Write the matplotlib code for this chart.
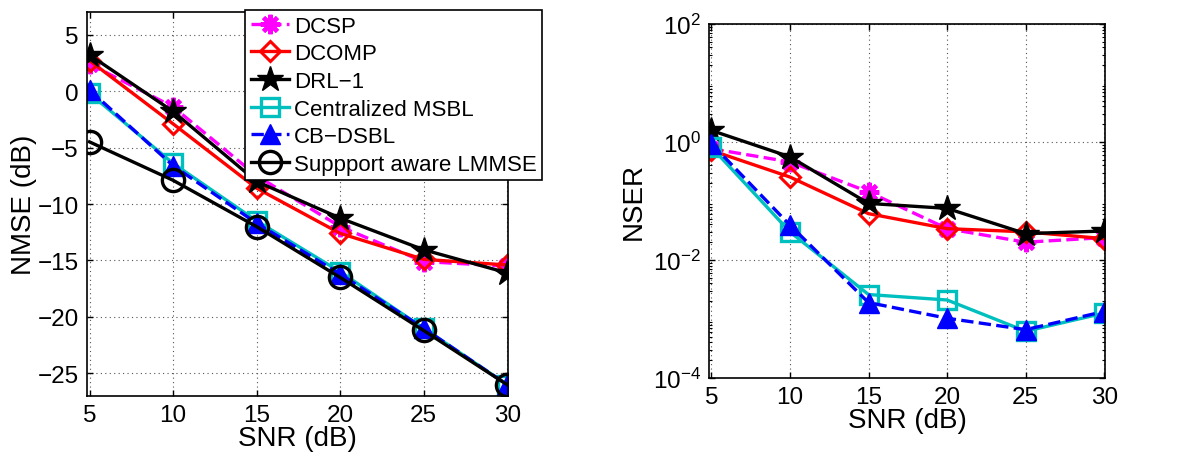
import matplotlib
matplotlib.use("Agg")
import matplotlib.pyplot as plt
import numpy as np

plt.rcParams['font.family'] = ['Liberation Sans', 'DejaVu Sans']

snr = [5, 10, 15, 20, 25, 30]

# NMSE (dB)
nmse_dcsp = [2.4, -1.4, -7.5, -12.0, -15.1, -15.5]
nmse_dcomp = [2.7, -2.9, -8.6, -12.6, -14.9, -15.4]
nmse_drl1 = [3.2, -1.8, -8.0, -11.25, -14.05, -16.1]
nmse_msbl = [-0.2, -6.4, -11.5, -16.0, -21.0, -26.0]
nmse_cbdsbl = [0.1, -6.6, -11.7, -16.2, -21.0, -26.0]
nmse_lmmse = [-4.5, -7.9, -12.0, -16.5, -21.2, -26.0]

# NSER
nser_dcsp = [0.77, 0.46, 0.143, 0.034, 0.020, 0.024]
nser_dcomp = [0.72, 0.255, 0.061, 0.034, 0.030, 0.023]
nser_drl1 = [1.57, 0.56, 0.091, 0.075, 0.028, 0.031]
nser_msbl = [0.82, 0.030, 0.0026, 0.0021, 0.00062, 0.00126]
nser_cbdsbl = [0.94, 0.039, 0.0019, 0.00103, 0.00066, 0.00134]

labels = ['DCSP', 'DCOMP', 'DRL\u22121', 'Centralized MSBL', 'CB\u2212DSBL',
          'Suppport aware LMMSE']

styles = [
    dict(color='#ff00ff', ls='--', marker=(8, 2, 0), ms=14, mfc='#ff00ff', mec='#ff00ff', mew=3),
    dict(color='#ff0000', ls='-', marker='D', ms=10, mfc='none', mec='#ff0000', mew=2.2),
    dict(color='black', ls='-', marker='*', ms=19, mfc='black', mec='black'),
    dict(color='#00bfbf', ls='-', marker='s', ms=13, mfc='none', mec='#00bfbf', mew=2.4),
    dict(color='#0000ff', ls='--', marker='^', ms=14, mfc='#0000ff', mec='#0000ff'),
    dict(color='black', ls='-', marker='o', ms=16, mfc='none', mec='black', mew=2.4),
]

W, H = 1186, 464
fig = plt.figure(figsize=(W / 100, H / 100), dpi=100)

ax1 = fig.add_axes([87 / W, (H - 397) / H, (508 - 87) / W, (397 - 13) / H])
ax2 = fig.add_axes([709 / W, (H - 379) / H, (1105 - 709) / W, (379 - 25) / H])

nmse = [nmse_dcsp, nmse_dcomp, nmse_drl1, nmse_msbl, nmse_cbdsbl, nmse_lmmse]
handles = []
for y, st, lab in zip(nmse, styles, labels):
    h, = ax1.plot(snr, y, lw=2.4, label=lab, **st)
    handles.append(h)

nser = [nser_dcsp, nser_dcomp, nser_drl1, nser_msbl, nser_cbdsbl]
for y, st, lab in zip(nser, styles[:5], labels[:5]):
    ax2.plot(snr, y, lw=2.4, label=lab, **st)

for ax in (ax1, ax2):
    ax.set_xticks(snr)
    ax.tick_params(direction='in', labelsize=17.5, length=4, width=1, top=True, right=True,
                   pad=6)
    ax.tick_params(which='minor', direction='in', length=2.5, width=0.8, top=True, right=True)
    ax.grid(True, ls=(0, (1, 3)), color='#555555', lw=0.8)
    for sp in ax.spines.values():
        sp.set_linewidth(1.2)
    ax.set_xlabel('SNR (dB)', fontsize=20, labelpad=-1)

ax1.set_xlim(4.85, 30.05)
ax1.set_ylim(-27, 7)
ax1.set_yticks([5, 0, -5, -10, -15, -20, -25])
ax1.set_yticklabels(['5', '0', '\u22125', '\u221210', '\u221215', '\u221220', '\u221225'])
ax1.set_ylabel('NMSE (dB)', fontsize=20, labelpad=0)

ax2.set_yscale('log')
ax2.set_xlim(4.85, 30.05)
ax2.set_ylim(1e-4, 1e2)
ax2.set_yticks([1e-4, 1e-2, 1e0, 1e2])
ax2.set_yticklabels(['$\\mathregular{10^{-4}}$', '$\\mathregular{10^{-2}}$',
                     '$\\mathregular{10^{0}}$', '$\\mathregular{10^{2}}$'])
ax2.yaxis.set_minor_locator(matplotlib.ticker.LogLocator(base=10, subs=np.arange(2, 10), numticks=20))
ax2.yaxis.set_minor_formatter(matplotlib.ticker.NullFormatter())
ax2.grid(False, which='minor')
ax2.set_ylabel('NSER', fontsize=20, labelpad=4)

leg = fig.legend(handles=handles, loc='upper left', bbox_to_anchor=(245 / W, 1 - 11 / H),
                 fontsize=16, frameon=True, fancybox=False, edgecolor='black',
                 handlelength=1.75, handletextpad=0.2, labelspacing=0.3,
                 borderpad=0.25, borderaxespad=0, framealpha=1)
leg.get_frame().set_linewidth(1.2)

fig.savefig('out.png', dpi=100)
